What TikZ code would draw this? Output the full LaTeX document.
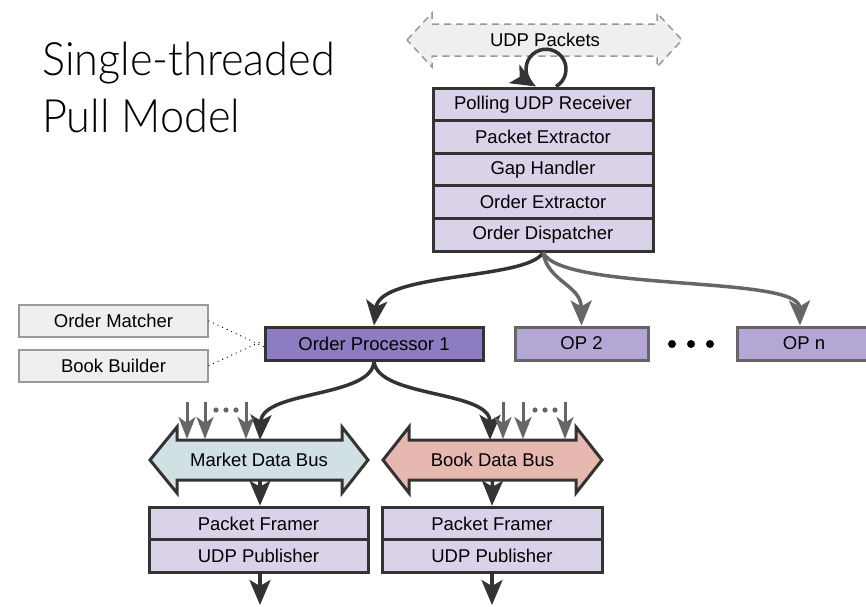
\documentclass[tikz,border=0pt]{standalone}
\usepackage{fontspec}
\setmainfont{Liberation Sans}
\newfontfamily\titlefont[FakeStretch=0.94]{Lato Light}
\usetikzlibrary{arrows.meta,calc}

\definecolor{ink}{HTML}{333333}
\definecolor{midgray}{HTML}{666666}
\definecolor{lightgray}{HTML}{999999}
\definecolor{paleflll}{HTML}{EFEFEF}
\definecolor{stackfill}{HTML}{D9D2E9}
\definecolor{procfill}{HTML}{8E7CC3}
\definecolor{opfill}{HTML}{B4A7D6}
\definecolor{mktfill}{HTML}{D0E0E3}
\definecolor{bookfill}{HTML}{E6B8AF}

\tikzset{
  layer/.style={draw=ink, line width=3pt, fill=stackfill, minimum width=220pt,
    minimum height=32.6pt, inner sep=0pt},
  proc/.style={draw=ink, line width=3pt, fill=procfill, minimum width=218pt,
    minimum height=33pt, inner sep=0pt},
  opbox/.style={draw=midgray, line width=3pt, fill=opfill, minimum height=33pt, inner sep=0pt},
  helper/.style={draw=lightgray, line width=2pt, fill=paleflll, minimum width=189pt,
    minimum height=32pt, inner sep=0pt},
  busbody/.style={minimum width=165pt, minimum height=40pt, inner sep=0pt},
  busline/.style={draw=ink, line width=3pt, line join=miter},
  bighead/.tip={Stealth[length=25pt,width=21pt,inset=6pt]},
  smallhead/.tip={Stealth[length=22pt,width=17pt,inset=6pt]},
  flow/.style={draw=ink, line width=3.5pt, -bighead},
  grayflow/.style={draw=midgray, line width=3.5pt, -bighead},
  feed/.style={draw=midgray, line width=3pt, -smallhead},
  link/.style={draw=black, line width=1.3pt, line cap=round, dash pattern=on 0pt off 5pt},
}

\begin{document}
\begin{tikzpicture}[x=1pt, y=-1pt, font=\fontsize{18.5}{21}\selectfont]
\useasboundingbox (0,0) rectangle (866,606);

% title
\node[anchor=base west, inner sep=0pt, font=\titlefont\fontsize{46}{57}\selectfont] (t1) at (42,75) {Single-threaded};
\node[anchor=base west, inner sep=0pt, font=\titlefont\fontsize{46}{57}\selectfont] (t2) at (42,132) {Pull Model};

% incoming packets
\draw[draw=lightgray, fill=paleflll, line width=1.5pt, dash pattern=on 7pt off 5pt]
  (407,40) -- (432,13) -- (432,24) -- (657,24) -- (657,13) -- (682,40)
  -- (657,67) -- (657,56) -- (432,56) -- (432,67) -- cycle;
\node[inner sep=0pt] (udp) at (545,40) {UDP Packets};

% receive stack
\node[layer] (recv) at (543,104.3) {Polling UDP Receiver};
\node[layer] (pext) at (543,136.9) {Packet Extractor};
\node[layer] (gap)  at (543,169.5) {Gap Handler};
\node[layer] (oext) at (543,202.1) {Order Extractor};
\node[layer] (disp) at (543,234.7) {Order Dispatcher};

% polling loop
\draw[flow] ([xshift=13pt]recv.north) arc[start angle=60, end angle=-240, radius=20];

% order processors
\node[proc] (op1) at (374,343.5) {Order Processor 1};
\node[opbox, minimum width=133pt] (op2) at (581.5,343.5) {OP 2};
\node[opbox, minimum width=134pt] (opn) at (804,343.5) {OP n};
\foreach \x/\n in {672/da,691/db,710/dc}
  \fill (\x,344) circle[radius=4pt] coordinate (\n);

\draw[flow] (disp.south) .. controls (528,280) and (380,272) .. (op1.north);
\draw[grayflow] (disp.south) .. controls (548,282) and (581,285) .. (op2.north);
\draw[grayflow] (disp.south) .. controls (562,292) and (799,275) .. ([xshift=-4pt]opn.north);

% helpers
\node[helper] (match) at (113.5,321) {Order Matcher};
\node[helper] (build) at (113.5,365.5) {Book Builder};
\draw[link] (match.east) -- ([yshift=-3pt]op1.west);
\draw[link] (build.east) -- ([yshift=3pt]op1.west);

% data buses
\draw[busline, fill=mktfill]
  (150,460) -- (177,427) -- (177,440) -- (342,440) -- (342,427) -- (368,460)
  -- (342,493) -- (342,480) -- (177,480) -- (177,493) -- cycle;
\node[busbody] (mkt) at (259,460) {Market Data Bus};
\draw[busline, fill=bookfill]
  (383,460) -- (409,427) -- (409,440) -- (576,440) -- (576,427) -- (602,460)
  -- (576,493) -- (576,480) -- (409,480) -- (409,493) -- cycle;
\node[busbody] (book) at (492.5,460) {Book Data Bus};

\draw[flow] (op1.south) .. controls (372,398) and (262,390) .. ([xshift=1pt]mkt.north);
\draw[flow] (op1.south) .. controls (378,398) and (490,390) .. ([xshift=-2.5pt]book.north);

% extra publishers feeding each bus
\foreach \x/\n in {187/ma,205/mb,246/mc,503/ba,523/bb,565/bc} {
  \coordinate (\n s) at (\x,402);
  \coordinate (\n e) at (\x,439);
  \draw[feed] (\n s) -- (\n e);
}
\foreach \x/\n in {216/ma,226/mb,236/mc,535/ba,545/bb,555/bc}
  \fill[midgray] (\x,410) circle[radius=2.6pt] coordinate (\n d);

% output stacks
\node[layer, minimum width=219pt] (pf1) at (258.5,523.5) {Packet Framer};
\node[layer, minimum width=219pt] (up1) at (258.5,556) {UDP Publisher};
\node[layer, minimum width=220pt] (pf2) at (492,523.5) {Packet Framer};
\node[layer, minimum width=220pt] (up2) at (492,556) {UDP Publisher};

\draw[flow] ([xshift=1pt]mkt.south) -- ([xshift=1.5pt]pf1.north);
\draw[flow] (book.south) -- (pf2.north);
\coordinate (out1) at (260,605);
\coordinate (out2) at (492,605);
\draw[flow] ([xshift=1.5pt]up1.south) -- (out1);
\draw[flow] (up2.south) -- (out2);
\end{tikzpicture}
\end{document}
